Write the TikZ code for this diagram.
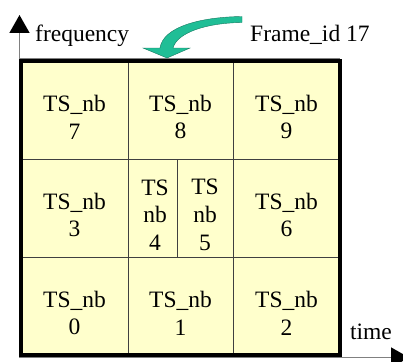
\documentclass[tikz,border=0pt]{standalone}
\usepackage{fontspec}
\setmainfont{Liberation Serif}
\usetikzlibrary{arrows.meta}
\definecolor{cellfill}{RGB}{255,255,204}
\definecolor{arrowgreen}{RGB}{32,190,150}
\definecolor{arrowedge}{RGB}{22,120,95}
\begin{document}
\begin{tikzpicture}[x=1pt,y=-1pt,
  lbl/.style={font=\fontsize{23.5}{27.7}\selectfont, inner sep=0pt, align=center},
  gridline/.style={draw=black!75, line width=1pt},
  axisline/.style={draw=gray, line width=1.5pt,
    -{Triangle[width=20pt,length=18pt,color=black]}},
  framebox/.style={draw=black, line width=4pt}]
\useasboundingbox (0,0) rectangle (403,361);
% axes
\coordinate (origin) at (19.5,357.5);
\coordinate (ytip) at (19.5,15);
\coordinate (xtip) at (409,357.5);
\draw[axisline] (origin) -- (ytip);
\draw[axisline] (origin) -- (xtip);
% top gray line
\coordinate (gl) at (19.5,58.5);
\coordinate (gr) at (340,58.5);
\draw[draw=gray, line width=1.2pt] (gl) -- (gr);
% cells
\fill[cellfill] (21,61) rectangle (339.5,354.5);
\draw[gridline] (128,61) -- (128,354.5);
\draw[gridline] (233,61) -- (233,354.5);
\draw[gridline] (21,159) -- (339.5,159);
\draw[gridline] (21,257) -- (339.5,257);
\draw[gridline] (177,159) -- (177,257);
\draw[framebox] (21,61) rectangle (339.5,354.5);
% cell labels
\node[lbl] (c7) at (74.5,117) {TS\_nb\\7};
\node[lbl] (c8) at (180.5,117) {TS\_nb\\8};
\node[lbl] (c9) at (286.5,117) {TS\_nb\\9};
\node[lbl] (c3) at (74.5,215) {TS\_nb\\3};
\node[lbl] (c4) at (155,215) {TS\\nb\\4};
\node[lbl] (c5) at (205,215) {TS\\nb\\5};
\node[lbl] (c6) at (286.5,215) {TS\_nb\\6};
\node[lbl] (c0) at (74.5,313) {TS\_nb\\0};
\node[lbl] (c1) at (180.5,313) {TS\_nb\\1};
\node[lbl] (c2) at (286.5,313) {TS\_nb\\2};
% axis labels
\node[lbl, anchor=base west] (freq) at (35,41.5) {frequency};
\node[lbl, anchor=base west] (frame) at (250,41.5) {Frame\_id 17};
\node[lbl, anchor=base] (time) at (371,339.3) {time};
% curved arrow
\fill[arrowgreen, draw=arrowedge, line width=0.4pt]
  (242,16.5) .. controls (200,17) and (163,27) .. (160,48)
  -- (143,48) -- (167,58) -- (190,48) -- (173,48)
  .. controls (177,33) and (205,23) .. (242,22.5) -- cycle;
\end{tikzpicture}
\end{document}
